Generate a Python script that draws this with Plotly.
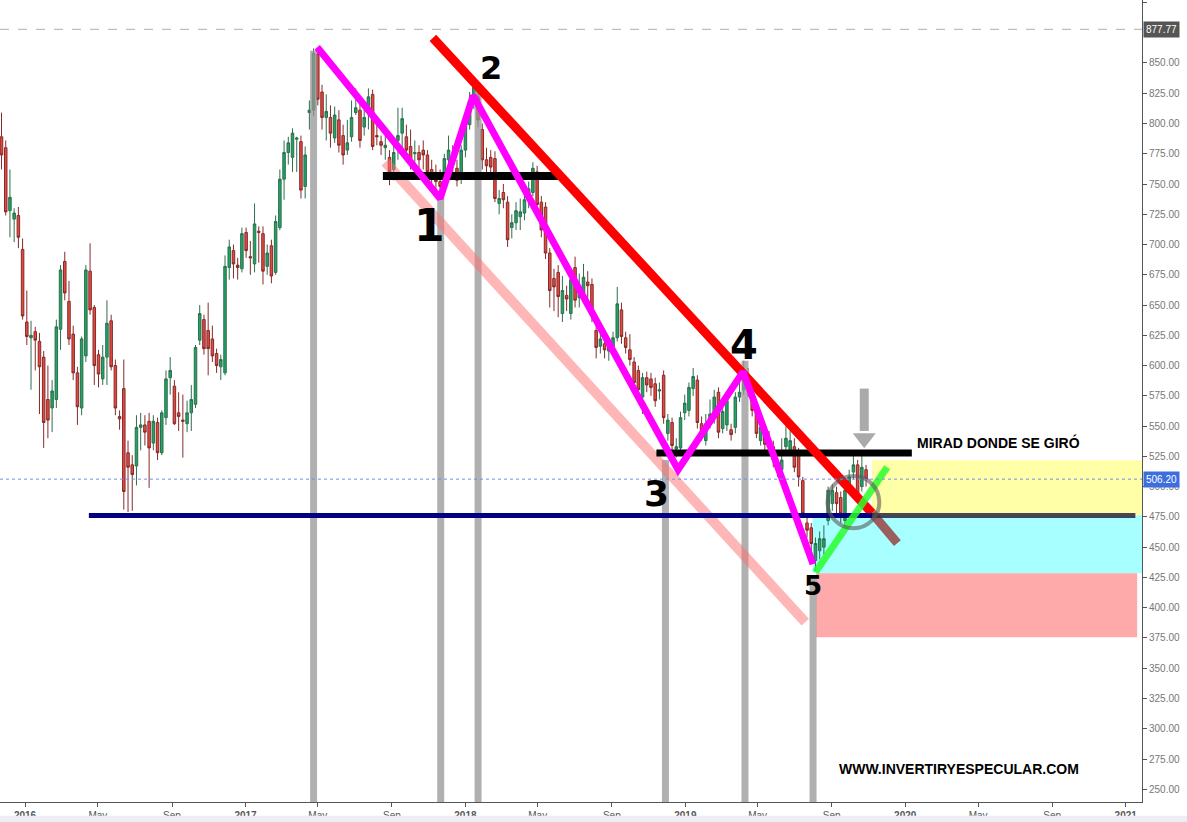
import pandas as pd
import plotly.graph_objects as go

# weekly candles, first week 2015-11-16
first_week = "2015-11-16"
opens = [786, 789, 780, 728, 721, 724, 696, 636, 623, 628, 620, 607, 572, 565, 572, 630, 686, 653, 626, 594,
         565, 608, 678, 648, 609, 589, 607, 637, 600, 558, 581, 528, 518, 517, 549, 551, 554, 536, 553, 528,
         557, 590, 583, 561, 555, 552, 561, 568, 621, 638, 629, 622, 610, 599, 594, 681, 695, 683, 680, 710,
         690, 684, 711, 709, 682, 699, 677, 714, 754, 776, 772, 787, 785, 748, 809, 811, 857, 826, 805, 805,
         788, 803, 790, 778, 789, 809, 811, 797, 813, 824, 790, 785, 780, 772, 762, 786, 792, 789, 781, 775,
         776, 778, 774, 762, 755, 752, 756, 770, 771, 763, 755, 778, 799, 819, 822, 795, 770, 772, 771, 734,
         743, 735, 714, 718, 723, 726, 737, 743, 760, 735, 731, 693, 672, 677, 643, 658, 643, 681, 656, 660,
         669, 667, 629, 616, 618, 612, 615, 623, 646, 623, 613, 603, 596, 574, 590, 589, 585, 579, 592, 544,
         553, 531, 532, 561, 563, 581, 588, 552, 538, 552, 557, 578, 548, 551, 547, 549, 574, 580, 593, 580,
         563, 538, 547, 540, 533, 518, 514, 533, 530, 533, 528, 505, 470, 466, 439, 447, 450, 472, 486, 495,
         491, 472, 497, 512, 518, 500, 514]
highs = [803, 809, 786, 762, 730, 731, 705, 662, 637, 632, 627, 612, 600, 588, 638, 683, 694, 670, 633, 599,
         624, 683, 701, 650, 613, 617, 654, 642, 605, 563, 605, 538, 526, 559, 561, 559, 561, 559, 557, 563,
         596, 607, 588, 578, 576, 571, 584, 617, 650, 642, 652, 633, 614, 609, 691, 704, 700, 689, 714, 714,
         703, 734, 715, 715, 700, 704, 724, 762, 786, 789, 796, 789, 790, 781, 819, 862, 862, 832, 824, 815,
         814, 811, 799, 803, 819, 829, 818, 815, 829, 828, 799, 790, 790, 778, 786, 813, 813, 799, 795, 786,
         782, 786, 778, 770, 766, 762, 775, 790, 782, 770, 782, 805, 826, 836, 830, 800, 780, 778, 777, 745,
         750, 740, 725, 735, 738, 745, 752, 768, 765, 740, 735, 697, 680, 683, 674, 666, 676, 690, 676, 684,
         678, 672, 634, 628, 625, 622, 628, 665, 652, 628, 626, 607, 600, 594, 595, 594, 590, 586, 596, 560,
         557, 540, 562, 576, 586, 598, 592, 558, 560, 572, 580, 582, 570, 576, 552, 578, 586, 604, 598, 584,
         568, 556, 552, 546, 538, 524, 540, 550, 546, 540, 532, 508, 476, 470, 458, 463, 468, 500, 502, 500,
         496, 502, 514, 528, 522, 528, 518]
lows = [780, 762, 724, 706, 702, 697, 638, 617, 580, 596, 560, 532, 540, 545, 565, 613, 654, 617, 588, 551,
        559, 603, 642, 584, 582, 584, 584, 596, 559, 547, 481, 479, 480, 501, 530, 534, 499, 530, 522, 526,
        551, 576, 551, 546, 524, 545, 546, 565, 617, 609, 592, 603, 594, 588, 592, 671, 672, 671, 677, 689,
        675, 677, 685, 667, 675, 668, 675, 712, 737, 766, 760, 760, 738, 738, 795, 806, 815, 795, 786, 780,
        784, 776, 766, 774, 785, 807, 780, 790, 795, 778, 782, 774, 770, 749, 753, 770, 778, 768, 762, 757,
        760, 762, 753, 750, 740, 740, 750, 765, 757, 748, 750, 772, 795, 812, 797, 762, 755, 755, 735, 725,
        730, 698, 705, 712, 712, 720, 730, 740, 728, 706, 688, 648, 645, 640, 636, 645, 638, 648, 648, 652,
        655, 636, 606, 610, 606, 604, 610, 620, 618, 610, 600, 580, 572, 560, 578, 575, 566, 572, 552, 538,
        528, 524, 528, 555, 558, 575, 548, 538, 534, 548, 552, 540, 544, 546, 538, 544, 570, 576, 574, 558,
        540, 534, 530, 527, 516, 508, 510, 528, 526, 512, 500, 474, 458, 445, 430, 440, 444, 468, 480, 478,
        470, 466, 494, 506, 488, 496, 500]
closes = [791, 774, 727, 739, 726, 706, 641, 624, 625, 621, 599, 553, 555, 579, 632, 679, 660, 622, 594, 566,
          622, 679, 646, 600, 593, 607, 635, 599, 565, 556, 496, 516, 510, 549, 551, 545, 532, 554, 528, 561,
          589, 596, 552, 558, 554, 561, 572, 615, 643, 614, 614, 608, 600, 605, 682, 698, 684, 681, 709, 695,
          689, 717, 710, 678, 693, 674, 719, 754, 776, 784, 792, 788, 745, 774, 811, 858, 820, 805, 810, 792,
          807, 782, 774, 784, 805, 813, 786, 805, 822, 781, 789, 782, 782, 760, 776, 790, 804, 778, 770, 776,
          770, 774, 760, 757, 752, 748, 771, 778, 766, 753, 778, 799, 819, 830, 803, 770, 765, 764, 738, 738,
          737, 704, 718, 728, 727, 737, 746, 763, 733, 712, 693, 662, 665, 657, 662, 655, 671, 654, 665, 673,
          666, 643, 615, 622, 613, 616, 623, 651, 624, 615, 605, 586, 580, 590, 584, 582, 571, 580, 557, 555,
          534, 533, 557, 569, 582, 591, 553, 544, 552, 560, 574, 545, 562, 571, 543, 574, 578, 594, 580, 563,
          544, 549, 535, 533, 522, 514, 522, 540, 538, 516, 508, 478, 464, 453, 453, 457, 457, 497, 497, 486,
          478, 497, 508, 518, 494, 516, 506.2]

# hand drawn marks (dates, prices)
wave_dates = ["2017-04-30", "2017-11-20", "2018-01-14", "2018-12-20", "2019-04-07", "2019-08-01"]
wave_prices = [863, 738, 823, 514, 595, 436]
wave_labels = ["1", "2", "3", "4", "5"]
wave_label_dates = ["2017-11-03", "2018-02-12", "2018-11-14", "2019-04-08", "2019-08-01"]
wave_label_prices = [716, 846, 494, 617, 418]
wave_label_sizes = [44, 32, 36, 40, 26]

bar_dates = ["2017-04-24", "2017-11-21", "2018-01-22", "2018-11-29", "2019-04-10", "2019-08-01"]
bar_tops = [860, 738, 830, 522, 604, 427]

red_dates = ["2017-11-08", "2019-11-07"]
red_prices = [870.7, 478.1]
brown_dates = ["2019-11-07", "2019-12-19"]
brown_prices = [478.1, 453.3]
pink_dates = ["2017-08-21", "2019-07-19"]
pink_prices = [768, 388]
green_dates = ["2019-08-05", "2019-12-02"]
green_prices = [429.3, 516.1]
neck1_dates = ["2017-08-17", "2018-06-04"]
neck1_price = 756.6
neck2_dates = ["2018-11-14", "2020-01-12"]
neck2_price = 527.7
support_dates = ["2016-04-16", "2019-11-07", "2021-01-17"]
support_price = 476.2

zones = [("2019-11-07", "2021-01-28", 521.9, 476.2, "#ffffa8"),
         ("2019-07-31", "2021-01-28", 476.2, 428.5, "#a8ffff"),
         ("2019-08-06", "2021-01-20", 428.5, 375.6, "#ffaaaa")]

high_price = 877.77
last_price = 506.20

price_ticks = [250, 275, 300, 325, 350, 375, 400, 425, 450, 475, 500, 525, 550, 575, 600, 625, 650,
               675, 700, 725, 750, 775, 800, 825, 850, 900]

tick_dates = ["2016-01-01", "2016-05-01", "2016-09-01", "2017-01-01", "2017-05-01", "2017-09-01",
              "2018-01-01", "2018-05-01", "2018-09-01", "2019-01-01", "2019-05-01", "2019-09-01",
              "2020-01-01", "2020-05-01", "2020-09-01", "2021-01-01"]
tick_labels = ["2016", "May", "Sep", "2017", "May", "Sep", "2018", "May", "Sep", "2019", "May", "Sep",
               "2020", "May", "Sep", "2021"]

x_range = ["2015-11-20 12:00", "2021-01-28"]
y_range = [239.5, 902]

dates = pd.date_range(first_week, periods=len(closes), freq="7D")

fig = go.Figure()

fig.add_trace(go.Candlestick(
    x=dates, open=opens, high=highs, low=lows, close=closes,
    increasing=dict(line=dict(color="#2f6e4e", width=1), fillcolor="#1fa464"),
    decreasing=dict(line=dict(color="#862a2a", width=1), fillcolor="#e4493f"),
    whiskerwidth=0, hoverinfo="skip", showlegend=False,
))

# grey vertical markers
bx, by = [], []
for d, top in zip(bar_dates, bar_tops):
    bx += [d, d, None]
    by += [top, y_range[0], None]
fig.add_trace(go.Scatter(x=bx, y=by, mode="lines", line=dict(color="rgba(150,150,150,0.75)", width=7),
                         hoverinfo="skip", showlegend=False))


def seg(xs, ys, color, width):
    fig.add_trace(go.Scatter(x=xs, y=ys, mode="lines", line=dict(color=color, width=width),
                             hoverinfo="skip", showlegend=False))


seg(pink_dates, pink_prices, "rgba(255,110,110,0.5)", 10)
seg(neck1_dates, [neck1_price] * 2, "#000000", 8)
seg(neck2_dates, [neck2_price] * 2, "#000000", 7)
seg(red_dates, red_prices, "#ff0000", 9)
seg(brown_dates, brown_prices, "rgba(150,40,40,0.75)", 9)
seg(support_dates[:2], [support_price] * 2, "#000080", 5)
seg(support_dates[1:], [support_price] * 2, "rgba(40,40,60,0.85)", 5)
seg(wave_dates, wave_prices, "#ff00ff", 7)
seg(green_dates, green_prices, "rgba(40,255,40,0.85)", 7)

# down arrow
arrow_date = "2019-10-25"
seg([arrow_date, arrow_date], [581, 546], "rgba(165,165,165,0.95)", 9)
fig.add_trace(go.Scatter(x=[arrow_date], y=[540], mode="markers",
                         marker=dict(symbol="triangle-down", size=20, color="rgba(165,165,165,0.95)"),
                         hoverinfo="skip", showlegend=False))

shapes = []
for x0, x1, y0, y1, col in zones:
    shapes.append(dict(type="rect", xref="x", yref="y", x0=x0, x1=x1, y0=y0, y1=y1,
                       fillcolor=col, line_width=0, layer="below"))
shapes.append(dict(type="circle", xref="x", yref="y", x0="2019-08-25", x1="2019-11-19",
                   y0=465.7, y1=508.7, line=dict(color="rgba(90,90,90,0.6)", width=4)))
shapes.append(dict(type="line", xref="paper", yref="y", x0=0, x1=1, y0=high_price, y1=high_price,
                   line=dict(color="#b0b0b0", width=1, dash="dash")))
shapes.append(dict(type="line", xref="paper", yref="y", x0=0, x1=1, y0=last_price, y1=last_price,
                   line=dict(color="#6f8fe8", width=1, dash="dot")))
shapes.append(dict(type="rect", xref="paper", yref="paper", x0=0, x1=1.04, y0=-0.026, y1=-0.017,
                   fillcolor="#eceef2", line_width=0))

annotations = []
for t, d, p, s in zip(wave_labels, wave_label_dates, wave_label_prices, wave_label_sizes):
    annotations.append(dict(x=d, y=p, text="<b>" + t + "</b>", showarrow=False,
                            font=dict(family="DejaVu Sans", size=s, color="#000000")))
annotations.append(dict(x="2020-01-17", y=536.8, text="<b>MIRAD DONDE SE GIRÓ</b>", showarrow=False,
                        xanchor="left", font=dict(family="Liberation Sans", size=14, color="#000000")))
annotations.append(dict(x="2019-09-10", y=266.5, text="<b>WWW.INVERTIRYESPECULAR.COM</b>", showarrow=False,
                        xanchor="left", font=dict(family="Liberation Sans", size=14, color="#000000")))
annotations.append(dict(xref="paper", x=1, xanchor="left", xshift=1, y=high_price, text="%.2f" % high_price,
                        showarrow=False, bgcolor="#555555", borderpad=2,
                        font=dict(family="Liberation Sans", size=10, color="#ffffff")))
annotations.append(dict(xref="paper", x=1, xanchor="left", xshift=1, y=last_price, text="%.2f" % last_price,
                        showarrow=False, bgcolor="#3d6ee0", borderpad=2,
                        font=dict(family="Liberation Sans", size=10, color="#ffffff")))

tick_text = ["<b>%s</b>" % t if t.isdigit() else t for t in tick_labels]

fig.update_layout(
    width=1187, height=822,
    margin=dict(l=0, r=45, t=0, b=20),
    paper_bgcolor="#ffffff", plot_bgcolor="#ffffff",
    boxgap=0.15,
    shapes=shapes, annotations=annotations,
    font=dict(family="Liberation Sans", size=10, color="#555555"),
    xaxis=dict(range=x_range, rangeslider=dict(visible=False), showgrid=False, zeroline=False,
               tickvals=tick_dates, ticktext=tick_text, ticks="outside", ticklen=4, tickcolor="#555555",
               showline=True, linecolor="#555555", linewidth=1, tickfont=dict(size=10, color="#555555")),
    yaxis=dict(range=y_range, side="right", showgrid=False, zeroline=False,
               tickvals=price_ticks, tickformat=".2f", ticks="outside", ticklen=4, tickcolor="#555555",
               showline=True, linecolor="#555555", linewidth=1, tickfont=dict(size=10, color="#777777")),
)

fig.write_html("out.html", config=dict(displayModeBar=False),
               post_script="document.body.style.margin='0px';")
